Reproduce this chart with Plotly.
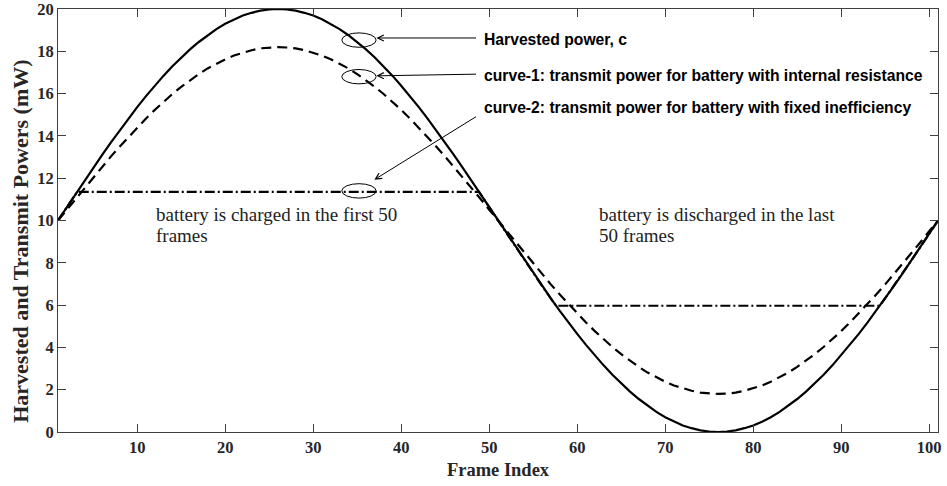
import plotly.graph_objects as go

# ---------------- data ----------------
frames = list(range(1, 102))

harvested = [
    10.00, 10.63, 11.25, 11.87, 12.49, 13.09, 13.68, 14.26, 14.82, 15.36,
    15.88, 16.37, 16.85, 17.29, 17.71, 18.09, 18.44, 18.76, 19.05, 19.30,
    19.51, 19.69, 19.82, 19.92, 19.98, 20.00, 19.98, 19.92, 19.82, 19.69,
    19.51, 19.30, 19.05, 18.76, 18.44, 18.09, 17.71, 17.29, 16.85, 16.37,
    15.88, 15.36, 14.82, 14.26, 13.68, 13.09, 12.49, 11.87, 11.25, 10.63,
    10.00, 9.37, 8.75, 8.13, 7.51, 6.91, 6.32, 5.74, 5.18, 4.64,
    4.12, 3.63, 3.15, 2.71, 2.29, 1.91, 1.56, 1.24, 0.95, 0.70,
    0.49, 0.31, 0.18, 0.08, 0.02, 0.00, 0.02, 0.08, 0.18, 0.31,
    0.49, 0.70, 0.95, 1.24, 1.56, 1.91, 2.29, 2.71, 3.15, 3.63,
    4.12, 4.64, 5.18, 5.74, 6.32, 6.91, 7.51, 8.13, 8.75, 9.37,
    10.00,
]

curve1 = [
    10.00, 10.51, 11.03, 11.54, 12.04, 12.53, 13.02, 13.49, 13.95, 14.39,
    14.82, 15.23, 15.61, 15.98, 16.32, 16.63, 16.92, 17.19, 17.42, 17.62,
    17.80, 17.94, 18.05, 18.14, 18.18, 18.20, 18.18, 18.14, 18.05, 17.94,
    17.80, 17.62, 17.42, 17.19, 16.92, 16.63, 16.32, 15.98, 15.61, 15.23,
    14.82, 14.39, 13.95, 13.49, 13.02, 12.53, 12.04, 11.54, 11.03, 10.51,
    10.00, 9.49, 8.97, 8.46, 7.96, 7.47, 6.98, 6.51, 6.05, 5.61,
    5.18, 4.77, 4.39, 4.02, 3.68, 3.37, 3.08, 2.81, 2.58, 2.38,
    2.20, 2.06, 1.95, 1.86, 1.82, 1.80, 1.82, 1.86, 1.95, 2.06,
    2.20, 2.38, 2.58, 2.81, 3.08, 3.37, 3.68, 4.02, 4.39, 4.77,
    5.18, 5.61, 6.05, 6.51, 6.98, 7.47, 7.96, 8.46, 8.97, 9.49,
    10.00,
]

curve2_x = [1, 2, 3, 3.17, 48.85, 49, 50, 51, 52, 53, 54, 55, 56, 57, 57.6,
            94.4, 95, 96, 97, 98, 99, 100, 101]
curve2_y = [10.00, 10.63, 11.25, 11.35, 11.35, 11.25, 10.63, 10.00, 9.37, 8.75,
            8.13, 7.51, 6.91, 6.32, 5.97, 5.97, 6.32, 6.91, 7.51, 8.13, 8.75,
            9.37, 10.00]

x_ticks = [10, 20, 30, 40, 50, 60, 70, 80, 90, 100]
y_ticks = [0, 2, 4, 6, 8, 10, 12, 14, 16, 18, 20]

x_title = "Frame Index"
y_title = "Harvested and Transmit Powers (mW)"
label_harvested = "Harvested power, c"
label_c1 = "curve-1: transmit power for battery with internal resistance"
label_c2 = "curve-2: transmit power for battery with fixed inefficiency"
note_charge = ["battery is charged in the first 50", "frames"]
note_discharge = ["battery is discharged in the last", "50 frames"]

# ---------------- figure ----------------
fig = go.Figure()
fig.add_trace(go.Scatter(x=frames, y=harvested, mode="lines",
                         line=dict(color="black", width=2.2)))
fig.add_trace(go.Scatter(x=frames, y=curve1, mode="lines",
                         line=dict(color="black", width=2.2, dash="10px,6px")))
fig.add_trace(go.Scatter(x=curve2_x, y=curve2_y, mode="lines",
                         line=dict(color="black", width=2.2, dash="10px,3px,2px,3px")))

axis_col = "#404040"
tick_font = dict(family="Liberation Serif", size=16.5, color="#262626", weight="bold")

fig.update_xaxes(range=[1, 101], tickvals=x_ticks, ticks="inside", ticklen=8,
                 tickcolor=axis_col, showline=True, linecolor=axis_col, linewidth=1,
                 mirror="ticks", showgrid=False, zeroline=False, automargin=False,
                 tickfont=tick_font, ticklabeloverflow="allow",
                 title=dict(text=x_title, standoff=7,
                            font=dict(family="Liberation Serif", size=18.5,
                                      color="#262626", weight="bold")))
fig.update_yaxes(range=[0, 20], tickvals=y_ticks, ticks="inside", ticklen=8,
                 tickcolor=axis_col, showline=True, linecolor=axis_col, linewidth=1,
                 mirror="ticks", showgrid=False, zeroline=False, automargin=False,
                 tickfont=tick_font, ticklabeloverflow="allow")

fig.add_annotation(x=-0.043, y=9.0, xref="paper", yref="y", text=y_title,
                   textangle=-90, showarrow=False, xanchor="center", yanchor="middle",
                   font=dict(family="Liberation Serif", size=22,
                             color="#262626", weight="bold"))

# ellipses
for cy in [18.53, 16.80, 11.40]:
    fig.add_shape(type="circle", xref="x", yref="y",
                  x0=35.2 - 1.95, x1=35.2 + 1.95, y0=cy - 0.34, y1=cy + 0.34,
                  line=dict(color="black", width=1))

# arrows
arrows = [((48.67, 18.63), (37.18, 18.63)),
          ((48.67, 16.92), (37.18, 16.84)),
          ((48.67, 14.95), (36.95, 11.93))]
for (tx, ty), (hx, hy) in arrows:
    fig.add_annotation(x=hx, y=hy, ax=tx, ay=ty, xref="x", yref="y",
                       axref="x", ayref="y", text="", showarrow=True,
                       arrowhead=5, arrowsize=1.2, arrowwidth=1, arrowcolor="black")

label_font = dict(family="Liberation Sans", size=15.7, color="black", weight="bold")
for txt, yy in [(label_harvested, 18.55), (label_c1, 16.85), (label_c2, 15.36)]:
    fig.add_annotation(x=49.2, y=yy, xref="x", yref="y", text=txt,
                       showarrow=False, xanchor="left", yanchor="middle",
                       font=label_font)

serif_font = dict(family="Liberation Serif", size=19, color="#222222")
for lines, xx in [(note_charge, 11.9), (note_discharge, 62.3)]:
    for i, line in enumerate(lines):
        fig.add_annotation(x=xx, y=10.3 - i * 1.0, xref="x", yref="y", text=line,
                           showarrow=False, xanchor="left", yanchor="middle",
                           align="left", font=serif_font)

fig.update_layout(width=947, height=486, showlegend=False,
                  plot_bgcolor="white", paper_bgcolor="white",
                  margin=dict(l=58, r=9, t=9, b=54))

fig.write_html("out.html", config={"displayModeBar": False},
               post_script="document.body.style.margin='0px';document.body.style.padding='0px';")
